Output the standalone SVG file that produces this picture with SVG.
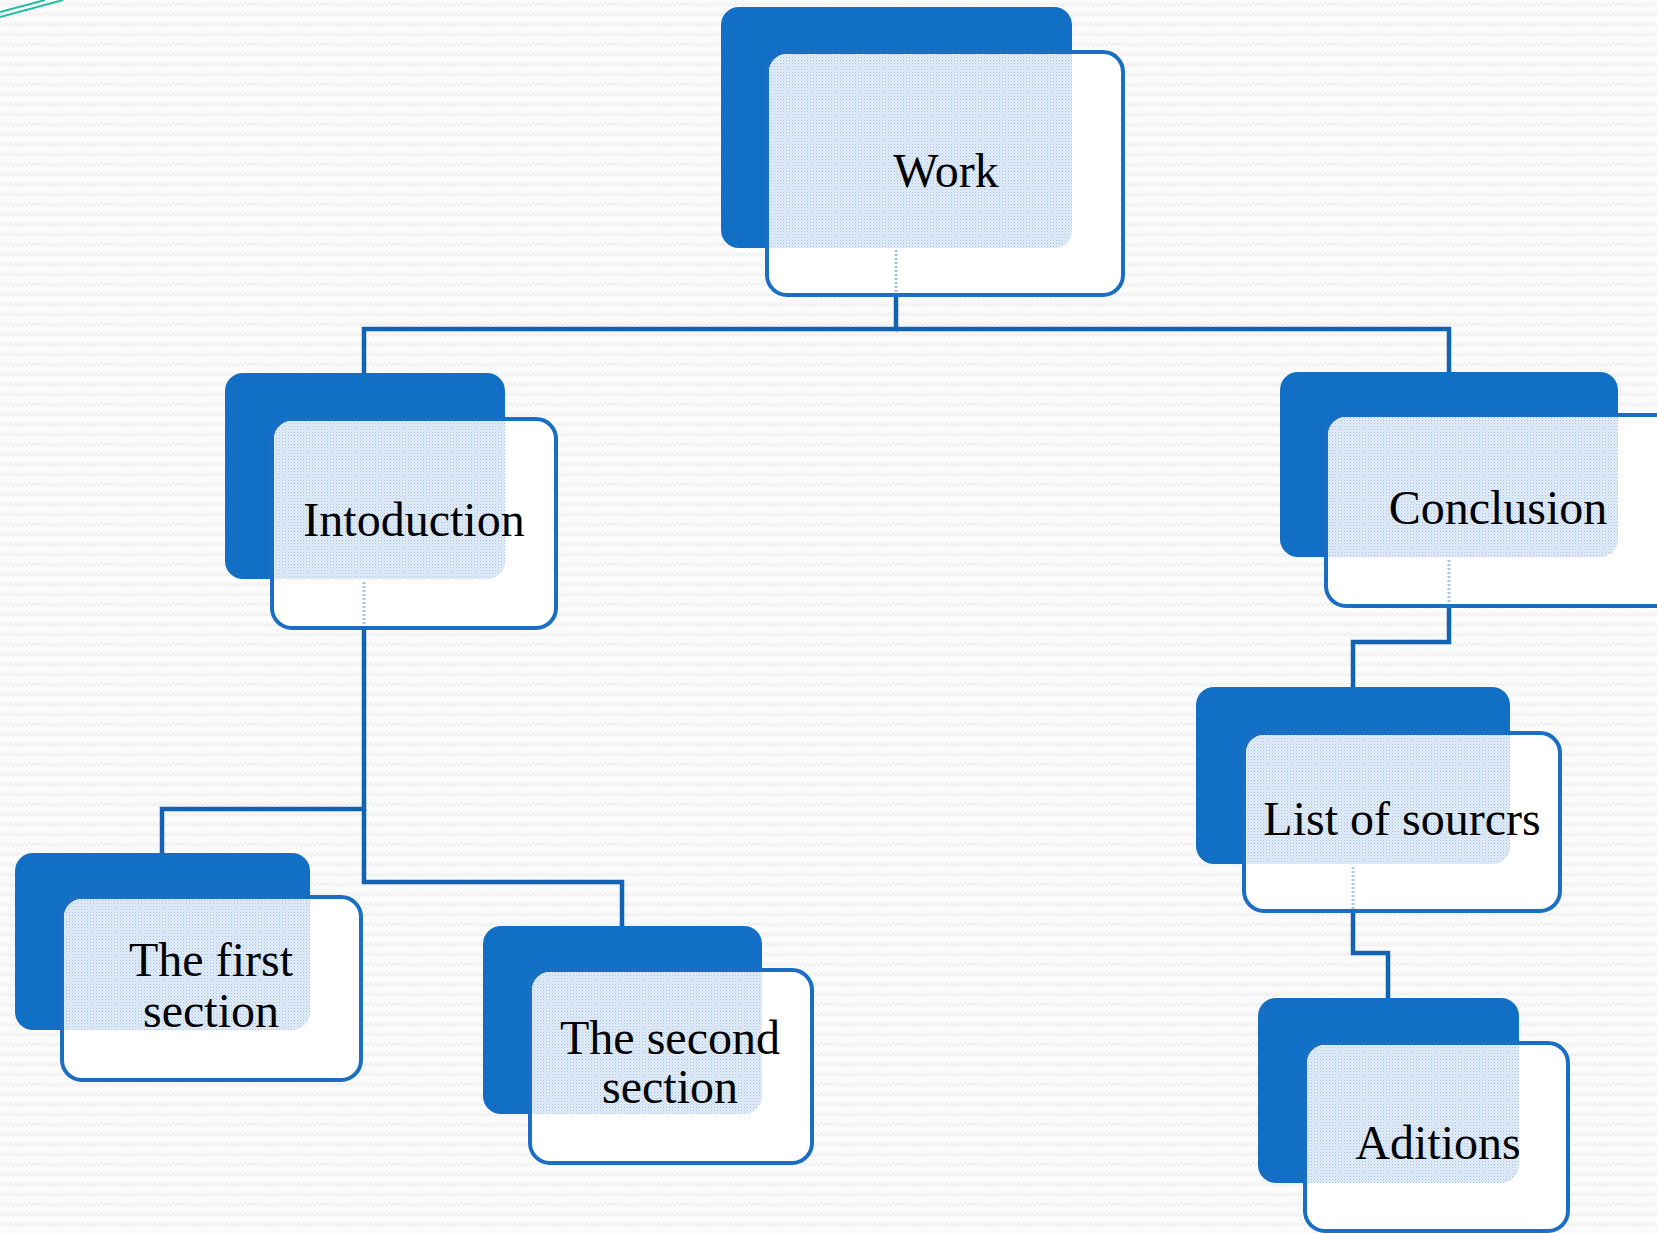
<svg xmlns="http://www.w3.org/2000/svg" width="1657" height="1233" viewBox="0 0 1657 1233">
  <defs>
    <pattern id="bgp" width="9" height="10" patternUnits="userSpaceOnUse">
      <rect width="9" height="10" fill="#fbfbfb"/>
      <polyline points="0,6 2.25,3 4.5,6 6.75,3 9,6" fill="none" stroke="#eeeeee" stroke-width="1.2"/>
    </pattern>
    <pattern id="dots" width="3" height="3" patternUnits="userSpaceOnUse">
      <rect width="3" height="3" fill="#e4edf8"/>
      <rect x="0" y="0" width="1" height="1" fill="#9fc0e8"/>
      <rect x="1.5" y="1.5" width="1" height="1" fill="#b5cdee"/>
    </pattern>
    <style>
      .back{fill:#1170c6;}
      .front{fill:#ffffff;stroke:#1a6fc4;stroke-width:4;}
      .ov{fill:url(#dots);}
      .ghost{fill:none;stroke:#a8c4e8;stroke-width:3;stroke-dasharray:2 2;}
      .conn path{fill:none;stroke:#1363b4;stroke-width:4.5;stroke-linejoin:miter;}
      text{font-family:"Liberation Serif","DejaVu Serif",serif;font-size:48px;fill:#000;text-anchor:middle;}
    </style>
  </defs>
  <rect width="1657" height="1233" fill="url(#bgp)"/>
  <path d="M0,17 L63,0 M0,12 L45,0" stroke="#22bfa5" stroke-width="2" fill="none"/>

  <g id="connectors" class="conn">
    <path d="M896,297 V329 H364 V373"/>
    <path d="M896,329 H1449 V372"/>
    <path d="M364,630 V809 H162 V853"/>
    <path d="M364,809 V882 H622 V926"/>
    <path d="M1449,608 V642 H1353 V687"/>
    <path d="M1353,913 V953 H1388 V998"/>
  </g>

  <g id="node-work">
    <rect class="back" x="721" y="7" width="351" height="241" rx="18"/>
    <rect class="front" x="767" y="52" width="356" height="243" rx="20"/>
    <path class="ov" d="M769,72 A18,18 0 0 1 787,54 H1072 V230 A18,18 0 0 1 1054,248 H769 Z"/>
    <line class="ghost" x1="896" y1="250" x2="896" y2="293"/>
    <text x="946" y="187">Work</text>
  </g>

  <g id="node-intro">
    <rect class="back" x="225" y="373" width="280" height="206" rx="18"/>
    <rect class="front" x="272" y="419" width="284" height="209" rx="20"/>
    <path class="ov" d="M274,439 A18,18 0 0 1 292,421 H505 V561 A18,18 0 0 1 487,579 H274 Z"/>
    <line class="ghost" x1="364" y1="582" x2="364" y2="626"/>
    <text x="414" y="536">Intoduction</text>
  </g>

  <g id="node-conclusion">
    <rect class="back" x="1280" y="372" width="338" height="185" rx="18"/>
    <rect class="front" x="1326" y="415" width="360" height="191" rx="20"/>
    <path class="ov" d="M1328,435 A18,18 0 0 1 1346,417 H1618 V539 A18,18 0 0 1 1600,557 H1328 Z"/>
    <line class="ghost" x1="1449" y1="560" x2="1449" y2="604"/>
    <text x="1498" y="524">Conclusion</text>
  </g>

  <g id="node-list">
    <rect class="back" x="1196" y="687" width="314" height="177" rx="18"/>
    <rect class="front" x="1244" y="733" width="316" height="178" rx="20"/>
    <path class="ov" d="M1246,753 A18,18 0 0 1 1264,735 H1510 V846 A18,18 0 0 1 1492,864 H1246 Z"/>
    <line class="ghost" x1="1353" y1="867" x2="1353" y2="909"/>
    <text x="1402" y="835">List of sourcrs</text>
  </g>

  <g id="node-additions">
    <rect class="back" x="1258" y="998" width="261" height="185" rx="18"/>
    <rect class="front" x="1305" y="1043" width="263" height="188" rx="20"/>
    <path class="ov" d="M1307,1063 A18,18 0 0 1 1325,1045 H1519 V1165 A18,18 0 0 1 1501,1183 H1307 Z"/>
    <text x="1438" y="1159">Aditions</text>
  </g>

  <g id="node-first">
    <rect class="back" x="15" y="853" width="295" height="177" rx="18"/>
    <rect class="front" x="62" y="897" width="299" height="183" rx="20"/>
    <path class="ov" d="M64,917 A18,18 0 0 1 82,899 H310 V1012 A18,18 0 0 1 292,1030 H64 Z"/>
    <text x="211" y="976">The first</text>
    <text x="211" y="1027">section</text>
  </g>

  <g id="node-second">
    <rect class="back" x="483" y="926" width="279" height="188" rx="18"/>
    <rect class="front" x="530" y="970" width="282" height="193" rx="20"/>
    <path class="ov" d="M532,990 A18,18 0 0 1 550,972 H762 V1096 A18,18 0 0 1 744,1114 H532 Z"/>
    <text x="670" y="1054">The second</text>
    <text x="670" y="1103">section</text>
  </g>
</svg>
